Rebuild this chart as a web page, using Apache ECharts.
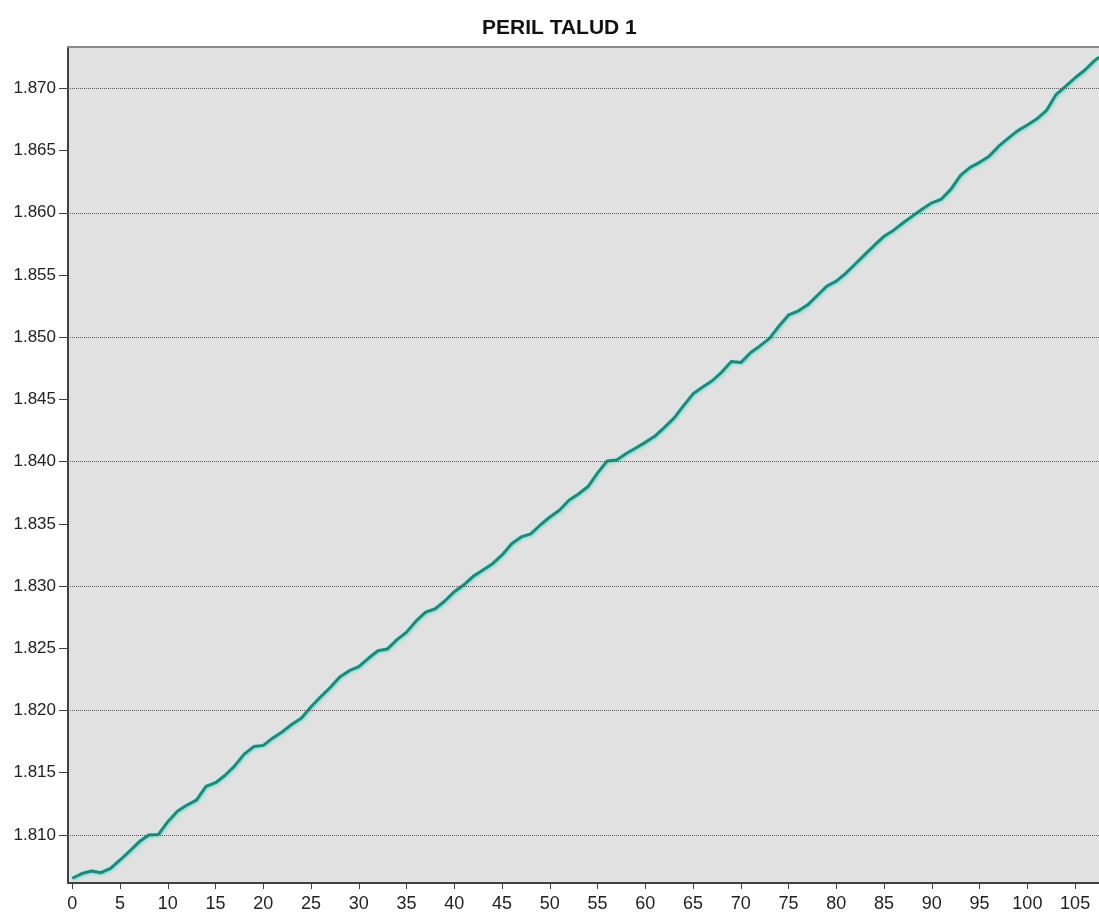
<!DOCTYPE html>
<html>
<head>
<meta charset="utf-8">
<title>PERIL TALUD 1</title>
<script src="https://cdn.jsdelivr.net/npm/echarts@6/dist/echarts.min.js"></script>
<style>
  html, body { margin: 0; padding: 0; background: #ffffff; }
  #chart { width: 1099px; height: 913px; }
</style>
</head>
<body>
<div id="chart"></div>
<script>
// Profile of the slope: elevation against distance along the section
const distance = [
  0, 1, 2, 3, 4, 5, 6, 7, 8, 9,
  10, 11, 12, 13, 14, 15, 16, 17, 18, 19,
  20, 21, 22, 23, 24, 25, 26, 27, 28, 29,
  30, 31, 32, 33, 34, 35, 36, 37, 38, 39,
  40, 41, 42, 43, 44, 45, 46, 47, 48, 49,
  50, 51, 52, 53, 54, 55, 56, 57, 58, 59,
  60, 61, 62, 63, 64, 65, 66, 67, 68, 69,
  70, 71, 72, 73, 74, 75, 76, 77, 78, 79,
  80, 81, 82, 83, 84, 85, 86, 87, 88, 89,
  90, 91, 92, 93, 94, 95, 96, 97, 98, 99,
  100, 101, 102, 103, 104, 105, 106, 107, 107.5
];
const elevation = [
  1.80652, 1.80690, 1.80710, 1.80697, 1.80732, 1.80799, 1.80870, 1.80945, 1.81000, 1.81003,
  1.81107, 1.81190, 1.81240, 1.81280, 1.81390, 1.81420, 1.81480, 1.81555, 1.81650, 1.81710,
  1.81720, 1.81780, 1.81830, 1.81890, 1.81940, 1.82030, 1.82110, 1.82185, 1.82270, 1.82320,
  1.82353, 1.82420, 1.82480, 1.82495, 1.82570, 1.82630, 1.82720, 1.82790, 1.82818, 1.82880,
  1.82955, 1.83010, 1.83080, 1.83130, 1.83180, 1.83250, 1.83340, 1.83395, 1.83420, 1.83491,
  1.83555, 1.83610, 1.83690, 1.83740, 1.83800, 1.83910, 1.84005, 1.84013, 1.84065, 1.84110,
  1.84155, 1.84205, 1.84275, 1.84350, 1.84450, 1.84545, 1.84600, 1.84650, 1.84720, 1.84805,
  1.84796, 1.84875, 1.84930, 1.84990, 1.85090, 1.85179, 1.85210, 1.85260, 1.85335, 1.85410,
  1.85450, 1.85515, 1.85590, 1.85665, 1.85740, 1.85812, 1.85860, 1.85920, 1.85975, 1.86030,
  1.86080, 1.86110, 1.86190, 1.86300, 1.86365, 1.86405, 1.86455, 1.86535, 1.86600, 1.86660,
  1.86705, 1.86755, 1.86822, 1.86950, 1.87015, 1.87085, 1.87145, 1.87220, 1.87250
];

// Tick positions for both axes
const xTicks = [0, 5, 10, 15, 20, 25, 30, 35, 40, 45, 50, 55, 60, 65, 70, 75, 80, 85, 90, 95, 100, 105];
const yTicks = [1.810, 1.815, 1.820, 1.825, 1.830, 1.835, 1.840, 1.845, 1.850, 1.855, 1.860, 1.865, 1.870];

const chartTitle = 'PERIL TALUD 1';

const FONT = "'Liberation Sans', Arial, sans-serif";

const points = distance.map((d, i) => [d, elevation[i]]);

const chart = echarts.init(document.getElementById('chart'), null, { renderer: 'canvas' });

chart.setOption({
  animation: false,
  backgroundColor: '#ffffff',
  title: {
    text: chartTitle,
    left: 477,
    top: 13,
    textStyle: { fontFamily: FONT, fontSize: 21, fontWeight: 'bold', color: '#111111' }
  },
  grid: {
    left: 68, top: 47, right: 0, bottom: 30,
    show: true,
    backgroundColor: '#e1e1e1',
    borderWidth: 0
  },
  xAxis: [
    {
      type: 'value',
      min: -0.45,
      max: 107.5,
      position: 'bottom',
      axisLine: { show: true, onZero: false, lineStyle: { color: '#404040', width: 2 } },
      axisTick: { show: true, length: 6, customValues: xTicks, lineStyle: { color: '#404040', width: 1 } },
      axisLabel: {
        customValues: xTicks,
        margin: 12,
        fontFamily: FONT, fontSize: 18, color: '#222222'
      },
      splitLine: { show: false }
    },
    {
      // plain frame line along the top of the plot
      type: 'value',
      min: -0.45,
      max: 107.5,
      position: 'top',
      axisLine: { show: true, onZero: false, lineStyle: { color: '#8a8a8a', width: 2 } },
      axisTick: { show: false },
      axisLabel: { show: false },
      splitLine: { show: false }
    }
  ],
  yAxis: {
    type: 'value',
    min: 1.80614,
    max: 1.87332,
    axisLine: { show: true, onZero: false, lineStyle: { color: '#404040', width: 2 } },
    axisTick: { show: true, length: 9, customValues: yTicks, lineStyle: { color: '#404040', width: 1 } },
    axisLabel: {
      customValues: yTicks,
      margin: 12,
      formatter: v => v.toFixed(3),
      fontFamily: FONT, fontSize: 17, color: '#222222'
    },
    splitLine: { show: false }
  },
  series: [
    {
      // horizontal dotted reference lines at each elevation tick
      type: 'line',
      xAxisIndex: 0,
      data: [],
      z: 1,
      silent: true,
      markLine: {
        silent: true,
        symbol: ['none', 'none'],
        label: { show: false },
        lineStyle: { type: 'dotted', color: '#5a5a5a', width: 1 },
        emphasis: { disabled: true },
        data: yTicks.map(v => ({ yAxis: v }))
      }
    },
    {
      name: chartTitle,
      type: 'line',
      xAxisIndex: 0,
      data: points,
      z: 3,
      showSymbol: false,
      smooth: false,
      lineStyle: {
        color: '#22877a',
        width: 3,
        shadowColor: 'rgba(95, 230, 210, 1)',
        shadowBlur: 3,
        shadowOffsetX: 1,
        shadowOffsetY: 1
      }
    }
  ]
});
</script>
</body>
</html>
